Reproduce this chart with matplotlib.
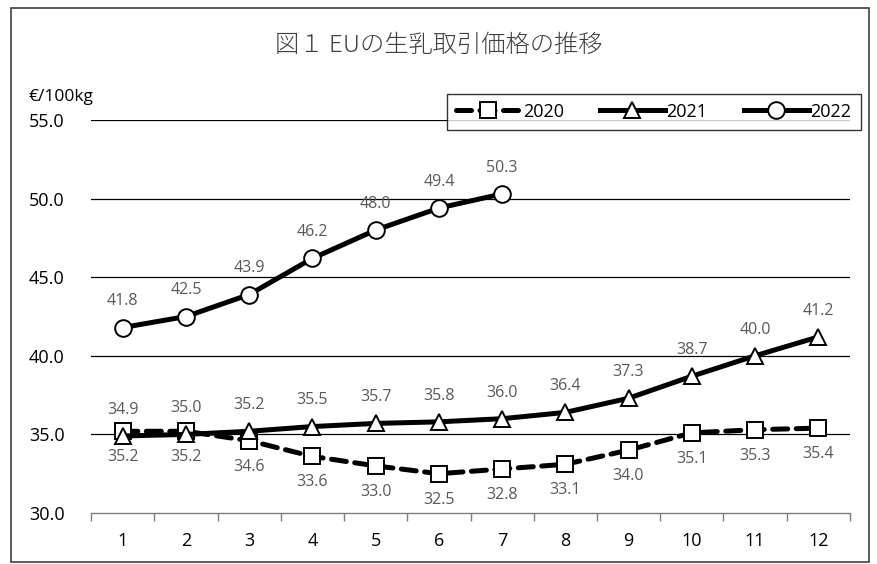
import matplotlib
matplotlib.use("Agg")
import matplotlib.pyplot as plt
from matplotlib.patches import Rectangle

plt.rcParams['font.family'] = ['Open Sans', 'Noto Sans CJK JP', 'DejaVu Sans']

# ============================================================
# data
# ============================================================
months = [1, 2, 3, 4, 5, 6, 7, 8, 9, 10, 11, 12]
month_labels = [str(m) for m in months]

price_2020 = [35.2, 35.2, 34.6, 33.6, 33.0, 32.5, 32.8, 33.1, 34.0, 35.1, 35.3, 35.4]
price_2021 = [34.9, 35.0, 35.2, 35.5, 35.7, 35.8, 36.0, 36.4, 37.3, 38.7, 40.0, 41.2]
price_2022 = [41.8, 42.5, 43.9, 46.2, 48.0, 49.4, 50.3]

y_ticks = [30.0, 35.0, 40.0, 45.0, 50.0, 55.0]

GREY = "#595959"

fig = plt.figure(figsize=(8.77, 5.64), dpi=100)
ax = fig.add_axes([0.104, 0.0904, 0.865, 0.6968])

# outer frame of the chart
fig.patches.append(Rectangle((0.012, 0.004), 0.979, 0.982, transform=fig.transFigure,
                             fill=False, edgecolor="#404040", linewidth=1.2))

LW = 3.6
ax.plot(months, price_2020, color="black", linewidth=LW, linestyle=(0, (3.0, 1.7)),
        dash_capstyle="round", marker="s", markersize=12, markerfacecolor="white",
        markeredgecolor="black", markeredgewidth=1.4, label="2020", zorder=3)
ax.plot(months, price_2021, color="black", linewidth=LW,
        marker="^", markersize=11, markerfacecolor="white", markeredgecolor="black",
        markeredgewidth=1.4, label="2021", zorder=4)
ax.plot(months[:len(price_2022)], price_2022, color="black", linewidth=LW,
        marker="o", markersize=12, markerfacecolor="white", markeredgecolor="black",
        markeredgewidth=1.4, label="2022", zorder=4)

# data labels
for x, v in zip(months, price_2020):
    ax.annotate(f"{v:.1f}", (x, v), xytext=(0, -13), textcoords="offset points",
                ha="center", va="top", fontsize=11.5, color=GREY)
for x, v in zip(months, price_2021):
    ax.annotate(f"{v:.1f}", (x, v), xytext=(0, 13), textcoords="offset points",
                ha="center", va="bottom", fontsize=11.5, color=GREY)
for x, v in zip(months, price_2022):
    ax.annotate(f"{v:.1f}", (x, v), xytext=(0, 13), textcoords="offset points",
                ha="center", va="bottom", fontsize=11.5, color=GREY)

ax.set_xlim(0.5, 12.5)
ax.set_ylim(30, 55)
ax.set_yticks(y_ticks)
ax.set_yticklabels([f"{t:.1f}" for t in y_ticks], fontsize=13, color="black")
ax.set_xticks(months)
ax.set_xticklabels(month_labels, fontsize=13, color="black")
ax.set_xticks([m - 0.5 for m in months] + [12.5], minor=True)
ax.tick_params(axis="x", which="major", length=0, pad=14)
ax.tick_params(axis="x", which="minor", length=6, color="#7f7f7f", width=1)
ax.tick_params(axis="y", length=0, pad=19)

for t in y_ticks[1:]:
    ax.axhline(t, color="black", linewidth=0.9, zorder=1)

for side in ["left", "right", "top"]:
    ax.spines[side].set_visible(False)
ax.spines["bottom"].set_color("#7f7f7f")
ax.spines["bottom"].set_linewidth(1)

leg = ax.legend(loc="upper right", bbox_to_anchor=(1.026, 1.09), ncol=3, frameon=True,
                fancybox=False, edgecolor="black", fontsize=13, handlelength=3.6,
                handletextpad=0.1, columnspacing=2.0, borderpad=0.5)
leg.get_frame().set_linewidth(1.0)
leg.set_zorder(10)

fig.text(0.5, 0.92, "図１ EUの生乳取引価格の推移", ha="center", va="center",
         fontsize=17.5, color="#404040", fontweight="light",
         family=["Noto Sans CJK JP", "DejaVu Sans"])
fig.text(0.032, 0.828, "€/100kg", ha="left", va="center", fontsize=12.5, color="black")

fig.savefig("out.png", dpi=100)
